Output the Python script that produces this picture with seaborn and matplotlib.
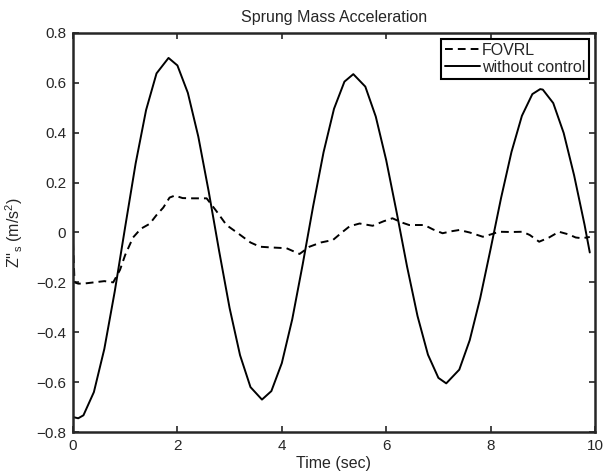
import numpy as np
import pandas as pd
import seaborn as sns
import matplotlib
matplotlib.use("Agg")
import matplotlib.pyplot as plt

# values
t_fovrl = [0.0, 0.03, 0.1, 0.2, 0.4, 0.6, 0.77, 0.9, 1.0, 1.15, 1.3, 1.47, 1.6,
           1.73, 1.85, 1.95, 2.1, 2.3, 2.56, 2.75, 2.94, 3.16, 3.4, 3.58, 3.8,
           4.09, 4.34, 4.53, 4.75, 4.98, 5.15, 5.3, 5.49, 5.74, 5.95, 6.12, 6.3,
           6.44, 6.73, 6.9, 7.08, 7.25, 7.4, 7.6, 7.85, 8.0, 8.16, 8.4, 8.61,
           8.75, 8.93, 9.12, 9.31, 9.5, 9.63, 9.75, 9.9]
z_fovrl = [-0.04, -0.2, -0.205, -0.205, -0.2, -0.195, -0.2, -0.15, -0.09, -0.02,
           0.015, 0.035, 0.07, 0.1, 0.14, 0.148, 0.138, 0.137, 0.137, 0.085,
           0.03, -0.003, -0.04, -0.057, -0.06, -0.063, -0.086, -0.057, -0.04,
           -0.03, 0.0, 0.025, 0.036, 0.027, 0.045, 0.057, 0.04, 0.03, 0.03,
           0.012, -0.003, 0.005, 0.01, 0.0, -0.017, -0.008, 0.003, 0.002, 0.003,
           -0.01, -0.037, -0.02, 0.003, -0.008, -0.02, -0.023, -0.018]

t_passive = [0.0, 0.1, 0.2, 0.4, 0.6, 0.8, 1.0, 1.2, 1.4, 1.6, 1.83, 2.0, 2.2,
             2.4, 2.6, 2.8, 3.0, 3.2, 3.4, 3.62, 3.8, 4.0, 4.2, 4.4, 4.6, 4.8,
             5.0, 5.2, 5.37, 5.6, 5.8, 6.0, 6.2, 6.4, 6.6, 6.8, 7.0, 7.15, 7.4,
             7.6, 7.8, 8.0, 8.2, 8.4, 8.6, 8.8, 8.95, 9.0, 9.2, 9.4, 9.6, 9.8, 9.9]
z_passive = [-0.74, -0.745, -0.733, -0.64, -0.467, -0.236, 0.023, 0.277, 0.491,
             0.638, 0.70, 0.67, 0.56, 0.385, 0.164, -0.075, -0.303, -0.492,
             -0.62, -0.67, -0.636, -0.524, -0.348, -0.128, 0.105, 0.322, 0.496,
             0.605, 0.635, 0.585, 0.465, 0.29, 0.081, -0.137, -0.335, -0.49,
             -0.583, -0.605, -0.55, -0.432, -0.264, -0.066, 0.138, 0.323, 0.468,
             0.555, 0.575, 0.573, 0.519, 0.399, 0.229, 0.031, -0.08]

x_ticks = [0, 2, 4, 6, 8, 10]
y_ticks = [-0.8, -0.6, -0.4, -0.2, 0, 0.2, 0.4, 0.6, 0.8]
y_ticklabels = ["\u22120.8", "\u22120.6", "\u22120.4", "\u22120.2", "0",
                "0.2", "0.4", "0.6", "0.8"]

sns.set_style("ticks")
plt.rcParams["font.family"] = ["Liberation Sans", "DejaVu Sans"]
plt.rcParams["font.size"] = 11

fig = plt.figure(figsize=(6.03, 4.73), dpi=100)
ax = fig.add_axes([73 / 603, 1 - 432 / 473, (595 - 73) / 603, (432 - 33) / 473])

sns.lineplot(x=t_fovrl, y=z_fovrl, ax=ax, color="black", linewidth=1.4,
             linestyle=(0, (4, 2.6)), label="FOVRL")
sns.lineplot(x=t_passive, y=z_passive, ax=ax, color="black", linewidth=1.4,
             label="without control")

ax.set_xlim(0, 10)
ax.set_ylim(-0.8, 0.8)
ax.set_xticks(x_ticks)
ax.set_xticklabels([str(v) for v in x_ticks])
ax.set_yticks(y_ticks)
ax.set_yticklabels(y_ticklabels)
ax.tick_params(direction="in", length=4, width=1.2, top=True, right=True,
               labelsize=11, pad=5)
for s in ax.spines.values():
    s.set_linewidth(1.8)
    s.set_visible(True)

ax.set_title("Sprung Mass Acceleration", fontsize=11.5, pad=8)
ax.set_xlabel("Time (sec)", fontsize=11.5, labelpad=2)
ax.set_ylabel(r"Z''$\mathregular{_s}$ (m/s$\mathregular{^2}$)", fontsize=11.5,
              labelpad=8)

leg = ax.legend(loc="upper right", fontsize=11.5, frameon=True, fancybox=False,
                edgecolor="black", framealpha=1, borderaxespad=0.35,
                handlelength=2.2, handletextpad=0.15, borderpad=0.25,
                labelspacing=0.15)
leg.get_frame().set_linewidth(1.5)

fig.savefig("out.png", dpi=100)
